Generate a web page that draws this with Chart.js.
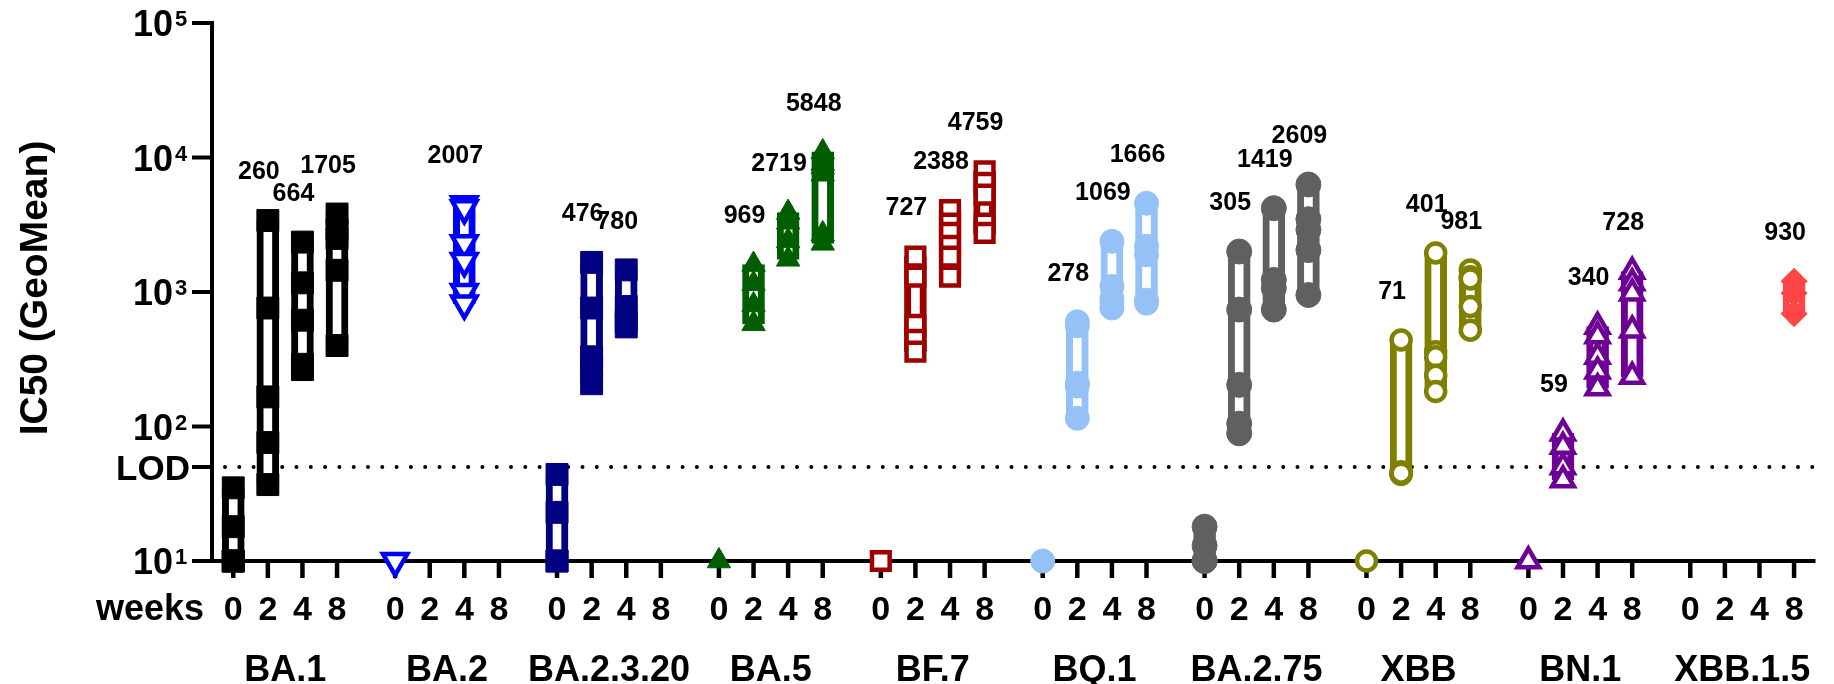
<!DOCTYPE html>
<html><head><meta charset="utf-8">
<script src="https://cdn.jsdelivr.net/npm/chart.js@4.4.1/dist/chart.umd.min.js"></script>
<style>html,body{margin:0;padding:0;background:#fff;overflow:hidden}canvas{display:block}</style>
</head><body>
<canvas id="c" width="1834" height="684"></canvas>
<script>
// ---------- DATA ----------
const groups = ['BA.1','BA.2','BA.2.3.20','BA.5','BF.7','BQ.1','BA.2.75','XBB','BN.1','XBB.1.5'];
const weeks = ['0','2','4','8'];
const yTickValues = [10, 100, 1000, 10000, 100000];
const yTickBase = '10';
const yTickExponents = ['1','2','3','4','5'];
const lodValue = 50;
const lodLabel = 'LOD';
const weeksTitle = 'weeks';
const yAxisTitle = 'IC50 (GeoMean)';

// individual IC50 values per week [0, 2, 4, 8]
const BA1     = [[35,18,10,10,10],[3400,760,166,76,37],[2350,1170,617,290,265],[3800,2900,2500,1450,400]];
const BA2     = [[10],[],[4500,4200,2300,1700,1000,820],[]];
const BA2320  = [[44,23,10,10],[1660,760,330,280,208],[1460,780,600,550],[]];
const BA5     = [[10],[1600,1150,800,580],[3900,3300,2400,1750],[11000,9000,8500,7500,2700,2300]];
const BF7     = [[10],[1835,1300,570,440,360],[4070,3230,2750,2200,1830,1300],[7900,6470,5300,3230,2750]];
const BQ1     = [[10],[600,560,210,200,115],[2380,1100,890,826,760],[4570,2190,1890,870,826]];
const BA275   = [[18,13,10,10],[2000,740,204,105,89],[4200,1230,1070,740],[6300,3480,2900,2050,950]];
const XBB     = [[10],[440,45,44,46,45],[1950,360,330,240,182],[1460,1300,1250,780,520]];
const BN1     = [[10],[89,71,50,40],[553,470,332,258,193],[1420,1165,980,520,235]];
const XBB15   = [[],[],[],[1200,980,690]];

// geometric mean labels per week [0, 2, 4, 8]
const BA1_GMT    = [null,'260','664','1705'];
const BA2_GMT    = [null,null,'2007',null];
const BA2320_GMT = [null,'476','780',null];
const BA5_GMT    = [null,'969','2719','5848'];
const BF7_GMT    = [null,'727','2388','4759'];
const BQ1_GMT    = [null,'278','1069','1666'];
const BA275_GMT  = [null,'305','1419','2609'];
const XBB_GMT    = [null,'71','401','981'];
const BN1_GMT    = [null,'59','340','728'];
const XBB15_GMT  = [null,null,null,'930'];

const groupValues = [BA1, BA2, BA2320, BA5, BF7, BQ1, BA275, XBB, BN1, XBB15];
const groupLabels = [BA1_GMT, BA2_GMT, BA2320_GMT, BA5_GMT, BF7_GMT, BQ1_GMT, BA275_GMT, XBB_GMT, BN1_GMT, XBB15_GMT];

// ---------- STYLE / LAYOUT ----------
const GROUP_SPACING = 4.679;
const xPos = (g, w) => g * GROUP_SPACING + w;
const groupStyles = [
  {color:'#000000', pointStyle:'rect', radius:15.5, open:false},
  {color:'#0000FF', pointStyle:'triangle', rotation:180, radius:14, open:true},
  {color:'#000080', pointStyle:'rect', radius:15.5, open:false},
  {color:'#005E00', pointStyle:'triangle', radius:13.5, open:false},
  {color:'#9E0000', pointStyle:'rect', radius:12.5, open:true},
  {color:'#94C2F7', pointStyle:'circle', radius:12, open:false},
  {color:'#606060', pointStyle:'circle', radius:12.5, open:false},
  {color:'#808000', pointStyle:'circle', radius:9.5, open:true},
  {color:'#6E0096', pointStyle:'triangle', radius:12.5, open:true},
  {color:'#FF4545', pointStyle:'rectRot', radius:13, open:false}
];
const FONT = '"Liberation Sans", Arial, Helvetica, sans-serif';

// ---------- DATASETS ----------
const barData = [], barColors = [];
groupValues.forEach((gv, gi) => gv.forEach((vals, wi) => {
  if (vals.length > 1) {
    barData.push({x: xPos(gi, wi), y: [Math.min(...vals), Math.max(...vals)]});
    barColors.push(groupStyles[gi].color);
  }
}));
const datasets = [{
  type:'bar', data: barData, backgroundColor:'#ffffff', borderColor: barColors,
  borderWidth: 7, borderSkipped: false, barThickness: 22, grouped: false, order: 2
}];
groupValues.forEach((gv, gi) => {
  const st = groupStyles[gi];
  const pts = [];
  gv.forEach((vals, wi) => vals.forEach(v => pts.push({x: xPos(gi, wi), y: v})));
  datasets.push({
    type:'scatter', data: pts, order: 1, clip: false,
    pointStyle: st.pointStyle, pointRotation: st.rotation || 0, pointRadius: st.radius,
    pointBackgroundColor: st.open ? '#ffffff' : st.color,
    pointBorderColor: st.color, pointBorderWidth: st.open ? 4.5 : 1
  });
});

const drawPlugin = {
  id: 'custom',
  beforeDatasetsDraw(chart) {
    const {ctx, chartArea: a, scales: {x, y}} = chart;
    ctx.save();
    const ly = y.getPixelForValue(lodValue);
    ctx.strokeStyle = '#000'; ctx.lineWidth = 4; ctx.lineCap = 'round';
    ctx.setLineDash([0, 14.3]);
    ctx.beginPath(); ctx.moveTo(a.left + 13, ly); ctx.lineTo(a.right, ly); ctx.stroke();
    ctx.setLineDash([]); ctx.lineCap = 'butt';
    ctx.lineWidth = 4;
    ctx.beginPath();
    ctx.moveTo(a.left, a.top - 2); ctx.lineTo(a.left, a.bottom + 2);
    ctx.moveTo(a.left - 2, a.bottom); ctx.lineTo(a.right, a.bottom);
    ctx.stroke();
    [...yTickValues, lodValue].forEach(v => {
      const py = y.getPixelForValue(v);
      ctx.beginPath(); ctx.moveTo(a.left - 20, py); ctx.lineTo(a.left, py); ctx.stroke();
    });
    ctx.lineWidth = 4.5;
    groups.forEach((g, gi) => weeks.forEach((w, wi) => {
      const px = x.getPixelForValue(xPos(gi, wi));
      ctx.beginPath(); ctx.moveTo(px, a.bottom); ctx.lineTo(px, a.bottom + 17); ctx.stroke();
    }));
    ctx.restore();
  },
  afterDraw(chart) {
    const {ctx, chartArea: a, scales: {x, y}} = chart;
    ctx.save();
    ctx.fillStyle = '#000';
    // y tick labels
    yTickValues.forEach((v, i) => {
      const py = y.getPixelForValue(v);
      ctx.font = 'bold 36px ' + FONT; ctx.textAlign = 'right'; ctx.textBaseline = 'alphabetic';
      ctx.fillText(yTickBase, 173, py + 13);
      ctx.font = 'bold 22px ' + FONT; ctx.textAlign = 'left';
      ctx.fillText(yTickExponents[i], 175, py + 3);
    });
    ctx.font = 'bold 35px ' + FONT; ctx.textAlign = 'right'; ctx.textBaseline = 'alphabetic';
    ctx.fillText(lodLabel, 190, y.getPixelForValue(lodValue) + 13);
    // x tick labels
    ctx.font = 'bold 34px ' + FONT; ctx.textAlign = 'center';
    groups.forEach((g, gi) => weeks.forEach((w, wi) => {
      ctx.fillText(w, x.getPixelForValue(xPos(gi, wi)), 620);
    }));
    ctx.font = 'bold 36px ' + FONT; ctx.textAlign = 'right';
    ctx.fillText(weeksTitle, 204, 620);
    // group labels
    ctx.font = 'bold 36px ' + FONT; ctx.textAlign = 'center';
    groups.forEach((g, gi) => {
      ctx.fillText(g, x.getPixelForValue(xPos(gi, 1.5)), 681);
    });
    // y title
    ctx.save();
    ctx.translate(47, 288); ctx.rotate(-Math.PI / 2);
    ctx.font = 'bold 39px ' + FONT; ctx.textAlign = 'center'; ctx.textBaseline = 'alphabetic';
    ctx.fillText(yAxisTitle, 0, 0);
    ctx.restore();
    // geomean labels
    ctx.font = 'bold 25px ' + FONT; ctx.textAlign = 'center'; ctx.textBaseline = 'middle';
    groupLabels.forEach((gl, gi) => gl.forEach((lab, wi) => {
      if (!lab) return;
      const top = Math.max(...groupValues[gi][wi]);
      ctx.fillText(lab, x.getPixelForValue(xPos(gi, wi)) - 9, y.getPixelForValue(top) - 48);
    }));
    ctx.restore();
  }
};

new Chart(document.getElementById('c'), {
  type: 'bar',
  data: { datasets },
  options: {
    responsive: false, animation: false, devicePixelRatio: 1,
    layout: { padding: { left: 212, right: 0, top: 23, bottom: 123 } },
    plugins: { legend: { display: false }, tooltip: { enabled: false } },
    scales: {
      x: { type: 'linear', display: false, offset: false, min: -0.614, max: 45.73 },
      y: { type: 'logarithmic', display: false, min: 10, max: 100000 }
    }
  },
  plugins: [drawPlugin]
});
</script>
</body></html>
